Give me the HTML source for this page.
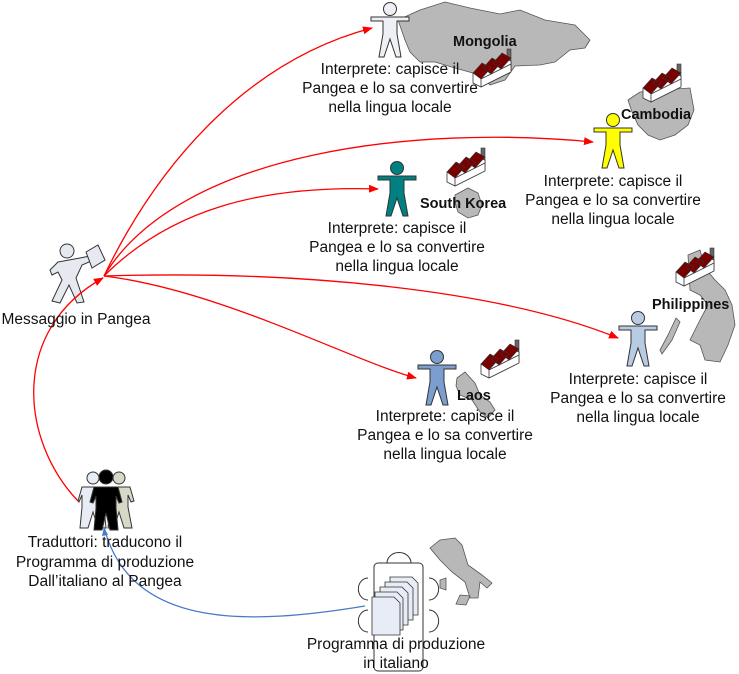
<!DOCTYPE html>
<html><head><meta charset="utf-8"><style>
html,body{margin:0;padding:0;background:#fff}
svg{display:block}
text{font-family:"Liberation Sans",sans-serif;font-size:15.5px;fill:#111}
.b{font-weight:bold;fill:#111;font-size:14.5px}
</style></head><body>
<svg width="739" height="674" viewBox="0 0 739 674" xmlns="http://www.w3.org/2000/svg">
<defs>
<marker id="ar" markerWidth="10" markerHeight="8" refX="9" refY="4" orient="auto" markerUnits="userSpaceOnUse"><path d="M0,0 L10,4 L0,8 z" fill="#f00"/></marker>
<g id="p"><circle cx="0" cy="0" r="6.5" stroke="#333" stroke-width="1"/><path d="M-19,8 L19,8 L19,12 L7,12 L7,25 L11,48 L6,48 L0,30 L-6,48 L-11,48 L-7,25 L-7,12 L-19,12 Z" stroke="#333" stroke-width="1"/></g>
<g id="f">
<rect x="34" y="0" width="4" height="22" fill="#666" stroke="#333" stroke-width="0.6"/>
<path d="M0,24 L30,9 L38,12 L38,23 L8,38 L0,34 Z" fill="#fff" stroke="#333" stroke-width="0.8"/>
<path d="M8,30 L8,38 M8,30 L38,15" fill="none" stroke="#333" stroke-width="0.8"/>
<path d="M0,24 L9,14 L18,19 L8,30 Z M10,19 L19,9 L28,14 L18,25 Z M20,14 L29,4 L38,9 L28,20 Z" fill="#7a0000" stroke="#333" stroke-width="0.6"/>
</g>
</defs>
<!-- maps -->
<path d="M398,20 L420,10 L445,2 L470,8 L500,14 L520,10 L545,20 L575,25 L590,40 L585,48 L570,50 L555,62 L540,65 L515,66 L505,80 L490,85 L480,75 L455,68 L435,62 L420,62 L410,52 L405,40 Z" fill="#b8b8b8" stroke="#555" stroke-width="0.8"/>
<path d="M628,100 L640,92 L660,90 L690,88 L694,110 L688,125 L675,135 L660,140 L648,135 L638,125 L632,112 Z" fill="#b8b8b8" stroke="#555" stroke-width="0.8"/>
<path d="M455,195 L468,188 L478,193 L482,205 L478,215 L468,218 L458,212 L455,202 Z" fill="#b8b8b8" stroke="#555" stroke-width="0.8"/>
<path d="M457,378 L465,372 L475,383 L480,395 L490,402 L495,410 L488,418 L480,412 L472,400 L460,395 L456,386 Z" fill="#b8b8b8" stroke="#555" stroke-width="0.8"/>
<path d="M688,255 L700,250 L705,268 L715,280 L725,290 L732,305 L735,325 L728,345 L720,362 L705,360 L700,345 L690,340 L700,320 L708,305 L700,295 L690,290 Z M660,350 L668,335 L676,318 L680,322 L672,340 L662,354 Z" fill="#b8b8b8" stroke="#555" stroke-width="0.8"/>
<path d="M430,548 L440,540 L455,538 L462,545 L468,565 L482,575 L492,583 L487,588 L480,582 L478,598 L470,598 L465,582 L452,572 L440,560 Z M440,580 L446,578 L446,590 L440,588 Z M460,595 L470,596 L466,605 L456,604 Z" fill="#b8b8b8" stroke="#555" stroke-width="0.8"/>
<!-- factories -->
<use href="#f" x="473" y="49"/><use href="#f" x="643" y="64"/><use href="#f" x="447" y="148"/><use href="#f" x="481" y="340"/><use href="#f" x="676" y="248"/>
<!-- people -->
<use href="#p" x="390" y="9" fill="#eef0f6"/>
<use href="#p" x="613" y="120" fill="#ffff00"/>
<use href="#p" x="397" y="168" fill="#008080"/>
<use href="#p" x="437" y="357" fill="#7b9dcf"/>
<use href="#p" x="638" y="318" fill="#b8cbe4"/>
<!-- messenger -->
<g stroke="#333" stroke-width="1" fill="#e6e9f0">
<circle cx="67" cy="251" r="7"/>
<path d="M58,262 L80,258 L95,255 L96,259 L82,265 L76,278 L84,302 L77,303 L69,285 L60,303 L52,301 L62,280 L58,272 L52,275 L50,270 Z"/>
<path d="M86,252 L98,245 L105,260 L92,268 Z"/>
</g>
<!-- translators -->
<g stroke="#333" stroke-width="1">
<circle cx="119" cy="478" r="6" fill="#d8d8c8"/><path d="M108,487 L130,487 L134,501 L131,502 L128,495 L128,507 L132,528 L124,528 L119,512 L114,528 L108,528 L110,507 Z" fill="#d8d8c8"/>
<circle cx="93" cy="478" r="6" fill="#e8ecf4"/><path d="M82,487 L104,487 L104,507 L106,528 L98,528 L93,512 L88,528 L80,528 L82,507 L82,495 L79,502 L78,501 Z" fill="#e8ecf4"/>
<circle cx="106" cy="477" r="7" fill="#000"/><path d="M94,487 L118,487 L122,502 L119,503 L116,496 L116,508 L118,530 L110,530 L106,513 L102,530 L94,530 L96,508 L96,496 L93,503 L90,502 Z" fill="#000"/>
</g>
<!-- table with docs -->
<g fill="none" stroke="#333" stroke-width="1">
<rect x="374" y="563" width="49" height="108" rx="4" fill="#fff"/>
<path d="M387,563 a8,7 0 0 1 24,0 M368,578 a7,8 0 0 0 0,22 M429,578 a7,8 0 0 1 0,22 M368,610 a7,8 0 0 0 0,22 M429,610 a7,8 0 0 1 0,22"/>
</g>
<g stroke="#333" stroke-width="0.8" fill="#e8ecf6">
<path d="M390,577 L412,577 L418,583 L418,615 L390,615 Z"/>
<path d="M385,582 L407,582 L413,588 L413,620 L385,620 Z"/>
<path d="M380,587 L402,587 L408,593 L408,625 L380,625 Z"/>
<path d="M375,592 L397,592 L403,598 L403,630 L375,630 Z"/>
<path d="M372,597 L394,597 L400,603 L400,635 L372,635 Z"/>
</g>
<!-- connectors -->
<g fill="none" stroke="#f00" stroke-width="1.3">
<path d="M104,276 C160,160 250,60 372,28" marker-end="url(#ar)"/>
<path d="M104,276 C180,150 420,125 593,142" marker-end="url(#ar)"/>
<path d="M104,276 C170,210 260,185 378,189" marker-end="url(#ar)"/>
<path d="M104,276 C220,290 350,360 416,378" marker-end="url(#ar)"/>
<path d="M104,276 C300,270 500,290 618,338" marker-end="url(#ar)"/>
<path d="M78,501 C20,440 10,330 103,278" marker-end="url(#ar)"/>
</g>
<path d="M365,606 C250,625 130,630 104,527" fill="none" stroke="#4a7ac8" stroke-width="1.3"/>
<path d="M104,527 l-2,9 l6,-1 z" fill="#4a7ac8"/>
<!-- labels -->
<text class="b" x="453" y="46">Mongolia</text>
<text class="b" x="621" y="119">Cambodia</text>
<text class="b" x="420" y="208">South Korea</text>
<text class="b" x="457" y="400">Laos</text>
<text class="b" x="652" y="309">Philippines</text>
<g text-anchor="middle">
<text x="390" y="74">Interprete: capisce il</text><text x="390" y="93">Pangea e lo sa convertire</text><text x="390" y="112">nella lingua locale</text>
<text x="613" y="186">Interprete: capisce il</text><text x="613" y="205">Pangea e lo sa convertire</text><text x="613" y="224">nella lingua locale</text>
<text x="397" y="233">Interprete: capisce il</text><text x="397" y="252">Pangea e lo sa convertire</text><text x="397" y="271">nella lingua locale</text>
<text x="445" y="421">Interprete: capisce il</text><text x="445" y="440">Pangea e lo sa convertire</text><text x="445" y="459">nella lingua locale</text>
<text x="638" y="384">Interprete: capisce il</text><text x="638" y="403">Pangea e lo sa convertire</text><text x="638" y="422">nella lingua locale</text>
<text x="76" y="324">Messaggio in Pangea</text>
<text x="105" y="547">Traduttori: traducono il</text><text x="105" y="567">Programma di produzione</text><text x="105" y="586">Dall’italiano al Pangea</text>
<text x="396" y="649">Programma di produzione</text><text x="396" y="668">in italiano</text>
</g>
</svg>
</body></html>
